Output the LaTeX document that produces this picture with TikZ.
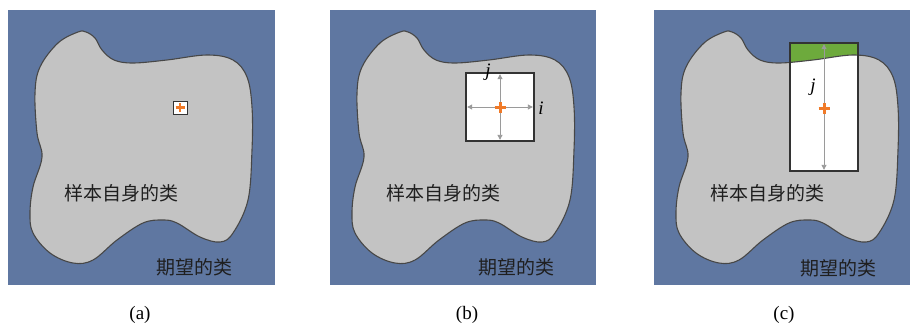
\documentclass[tikz,border=0pt]{standalone}
\usepackage{fontspec}
\setmainfont{Liberation Serif}
\newfontfamily\cjk{Noto Sans CJK SC}
\usetikzlibrary{arrows.meta}
\definecolor{bgblue}{HTML}{5F77A1}
\definecolor{blobgray}{HTML}{C3C3C3}
\definecolor{okgreen}{HTML}{6DAA3C}
\definecolor{plusorange}{HTML}{F07A28}
\definecolor{arrgray}{HTML}{9A9A9A}
\tikzset{
  x=1pt, y=-1pt,
  panelbg/.style={fill=bgblue},
  blob/.style={insert path={plot[smooth cycle, tension=0.6] coordinates {
    (78,22) (87,28) (94,40) (106,50) (125,53) (159,50) (199,45) (225,50)
    (239,67) (244,97) (244,140) (240,190) (225,223) (212,232) (192,227)
    (169,213) (155,210) (135,213) (109,230) (85,250) (65,253) (42,243)
    (25,223) (22,203) (25,177) (34,147) (29,123) (27,83) (32,57) (50,33) (70,22)}}},
  blobline/.style={draw=black!72, line width=1.1pt},
  lbl/.style={font=\cjk\fontsize{19}{19}\selectfont, text=black!88, inner sep=0pt},
  captext/.style={font=\fontsize{19}{19}\selectfont, inner sep=0pt},
  boxline/.style={draw=black!80, line width=1.3pt},
  winbox/.style={fill=white, inner sep=0pt, outer sep=0pt},
  darr/.style={draw=arrgray, line width=0.9pt, shorten >=1.2pt, -{Triangle[length=5pt,width=5pt]}},
  plusarm/.style={draw=plusorange, line width=3pt},
  ital/.style={font=\itshape\fontsize{19}{19}\selectfont, inner sep=0pt},
}
\begin{document}
\begin{tikzpicture}
\useasboundingbox (0,0) rectangle (910,327);
\fill[white] (0,0) rectangle (910,327);

% ---------- panel (a)
\begin{scope}[shift={(8,10)}]
  \fill[panelbg] (0,0) rectangle (267,275);
  \fill[blobgray, blob];
  \draw[blobline, blob];
  \node[winbox, minimum width=14pt, minimum height=13pt] (abox) at (172,97.5) {};
  \draw[draw=black!80, line width=1pt] (abox.north west) rectangle (abox.south east);
  \coordinate (ac) at (172,97.5);
  \draw[plusarm, line width=2.6pt] ([xshift=-4.5pt]ac) -- ([xshift=4.5pt]ac);
  \draw[plusarm, line width=2.6pt] ([yshift=-4.5pt]ac) -- ([yshift=4.5pt]ac);
  \node[lbl] (aself) at (113,183) {样本自身的类};
  \node[lbl] (aexp) at (186,257) {期望的类};
\end{scope}
\node[captext] (capa) at (140,315) {(a)};

% ---------- panel (b)
\begin{scope}[shift={(330,10)}]
  \fill[panelbg] (0,0) rectangle (266,275);
  \fill[blobgray, blob];
  \draw[blobline, blob];
  \node[winbox, minimum width=68pt, minimum height=68pt] (bbox) at (170,97) {};
  \draw[boxline] (bbox.north west) rectangle (bbox.south east);
  \coordinate (bc) at (170,97);
  \draw[darr] (bc) -- (bbox.north);
  \draw[darr] (bc) -- (bbox.south);
  \draw[darr] (bc) -- (bbox.east);
  \draw[darr] (bc) -- (bbox.west);
  \draw[plusarm] ([xshift=-5.5pt]bc) -- ([xshift=5.5pt]bc);
  \draw[plusarm] ([yshift=-5.5pt]bc) -- ([yshift=5.5pt]bc);
  \node[ital] (bj) at (158,62) {j};
  \node[ital] (bi) at (211,98) {i};
  \node[lbl] (bself) at (113,183) {样本自身的类};
  \node[lbl] (bexp) at (186,257) {期望的类};
\end{scope}
\node[captext] (capb) at (467,315) {(b)};

% ---------- panel (c)
\begin{scope}[shift={(654,10)}]
  \fill[panelbg] (0,0) rectangle (256,275);
  \fill[blobgray, blob];
  \node[winbox, minimum width=68pt, minimum height=128pt] (cbox) at (170,97) {};
  \begin{scope}
    \clip (cbox.north west) rectangle (cbox.south east);
    \fill[okgreen] (cbox.north west) rectangle (cbox.south east);
    \fill[white, blob];
  \end{scope}
  \draw[blobline, blob];
  \draw[boxline] (cbox.north west) rectangle (cbox.south east);
  \coordinate (cc) at (170,98);
  \draw[darr] (cc) -- (cbox.north);
  \draw[darr] (cc) -- (cbox.south);
  \draw[plusarm] ([xshift=-5.5pt]cc) -- ([xshift=5.5pt]cc);
  \draw[plusarm] ([yshift=-5.5pt]cc) -- ([yshift=5.5pt]cc);
  \node[ital] (cj) at (159,77) {j};
  \node[lbl] (cself) at (113,183) {样本自身的类};
  \node[lbl] (cexp) at (184,258) {期望的类};
\end{scope}
\node[captext] (capc) at (784,315) {(c)};
\end{tikzpicture}
\end{document}
